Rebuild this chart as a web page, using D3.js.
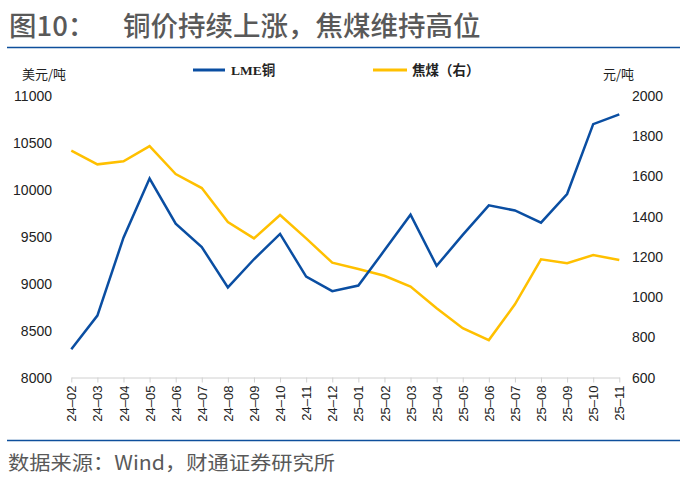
<!DOCTYPE html>
<html>
<head>
<meta charset="utf-8">
<script src="https://cdn.jsdelivr.net/npm/d3@7"></script>
<style>
  body { margin: 0; background: #fff; }
  svg { font-family: "Noto Sans CJK SC", "Noto Sans", sans-serif; }
</style>
</head>
<body>
<div id="chart"></div>
<script>
// 月份
const months = ['24-02','24-03','24-04','24-05','24-06','24-07','24-08','24-09','24-10','24-11','24-12',
  '25-01','25-02','25-03','25-04','25-05','25-06','25-07','25-08','25-09','25-10','25-11'];
// LME铜 (美元/吨)
const copper = [8300, 8660, 9490, 10120, 9640, 9390, 8960, 9260, 9530, 9075, 8920,
  8980, 9355, 9735, 9190, 9520, 9835, 9780, 9650, 9955, 10700, 10805];
// 焦煤 (元/吨, 右轴)
const coal = [1728, 1660, 1675, 1751, 1612, 1542, 1373, 1292, 1408, 1292, 1171,
  1140, 1106, 1052, 944, 845, 786, 964, 1188, 1168, 1209, 1184];
const leftTicks = [8000, 8500, 9000, 9500, 10000, 10500, 11000];
const rightTicks = [600, 800, 1000, 1200, 1400, 1600, 1800, 2000];

const width = 688, height = 481;
const svg = d3.select('#chart').append('svg')
  .attr('width', width).attr('height', height);

// 标题
svg.append('text').attr('x', 9).attr('y', 35.5)
  .attr('font-size', 27.5).attr('font-weight', 500).attr('fill', '#595959')
  .text('图10：');
svg.append('text').attr('x', 123).attr('y', 35.5)
  .attr('font-size', 27.5).attr('font-weight', 500).attr('fill', '#595959')
  .text('铜价持续上涨，焦煤维持高位');
svg.append('line').attr('x1', 7).attr('x2', 680).attr('y1', 47.5).attr('y2', 47.5)
  .attr('stroke', '#0e4f9c').attr('stroke-width', 1.5);
svg.append('line').attr('x1', 7).attr('x2', 680).attr('y1', 440.5).attr('y2', 440.5)
  .attr('stroke', '#0e4f9c').attr('stroke-width', 1.5);
svg.append('text').attr('x', 8).attr('y', 470)
  .attr('font-size', 19.5).attr('fill', '#595959')
  .attr('textLength', 327).attr('lengthAdjust', 'spacingAndGlyphs')
  .text('数据来源：Wind，财通证券研究所');

// 比例尺
const x = d3.scalePoint().domain(months).range([71.3, 619.3]);
const yL = d3.scaleLinear().domain([8000, 11000]).range([377.5, 96]);
const yR = d3.scaleLinear().domain([600, 2000]).range([377.5, 96]);

// 单位
svg.append('text').attr('x', 22).attr('y', 79).attr('font-size', 13).attr('fill', '#222').text('美元/吨');
svg.append('text').attr('x', 603).attr('y', 79).attr('font-size', 13).attr('fill', '#222').text('元/吨');

// 图例
svg.append('line').attr('x1', 193).attr('x2', 225).attr('y1', 70).attr('y2', 70)
  .attr('stroke', '#0a4ea2').attr('stroke-width', 3);
svg.append('text').attr('x', 231).attr('y', 75).attr('font-size', 13.5).attr('font-weight', 'bold')
  .attr('font-family', '"Liberation Serif", "Noto Sans CJK SC", serif').attr('fill', '#222').text('LME铜');
svg.append('line').attr('x1', 373).attr('x2', 407).attr('y1', 70).attr('y2', 70)
  .attr('stroke', '#ffc000').attr('stroke-width', 3);
svg.append('text').attr('x', 412).attr('y', 75).attr('font-size', 13.5).attr('font-weight', 'bold')
  .attr('fill', '#222').text('焦煤（右）');

// 左轴
svg.append('g').selectAll('text').data(leftTicks).enter().append('text')
  .attr('x', 52).attr('y', d => yL(d) + 5)
  .attr('text-anchor', 'end').attr('font-size', 14)
  .attr('font-family', '"Liberation Sans", Arial, sans-serif').attr('fill', '#222')
  .text(d => d);

// 右轴
svg.append('g').selectAll('text').data(rightTicks).enter().append('text')
  .attr('x', 632).attr('y', d => yR(d) + 5)
  .attr('font-size', 14)
  .attr('font-family', '"Liberation Sans", Arial, sans-serif').attr('fill', '#222')
  .text(d => d);

// x 轴
const xAxis = svg.append('g')
  .attr('transform', 'translate(0,377.5)')
  .call(d3.axisBottom(x).tickSizeInner(5).tickSizeOuter(0).tickPadding(4));
xAxis.select('.domain').attr('stroke', '#d0d0d0');
xAxis.selectAll('.tick line').attr('stroke', '#d0d0d0');
xAxis.selectAll('.tick text')
  .attr('font-size', 13).attr('fill', '#222')
  .attr('font-family', '"Liberation Sans", Arial, sans-serif')
  .attr('transform', 'rotate(-90)')
  .attr('text-anchor', 'end')
  .attr('x', -8).attr('y', 0).attr('dy', '0.35em')
  .text(d => d.replace('-', '\u2013'));

// 折线
const lineL = d3.line().x((d, i) => x(months[i])).y(d => yL(d));
const lineR = d3.line().x((d, i) => x(months[i])).y(d => yR(d));
svg.append('path').datum(coal).attr('d', lineR)
  .attr('fill', 'none').attr('stroke', '#ffc000').attr('stroke-width', 2.5);
svg.append('path').datum(copper).attr('d', lineL)
  .attr('fill', 'none').attr('stroke', '#0a4ea2').attr('stroke-width', 2.5);
</script>
</body>
</html>
